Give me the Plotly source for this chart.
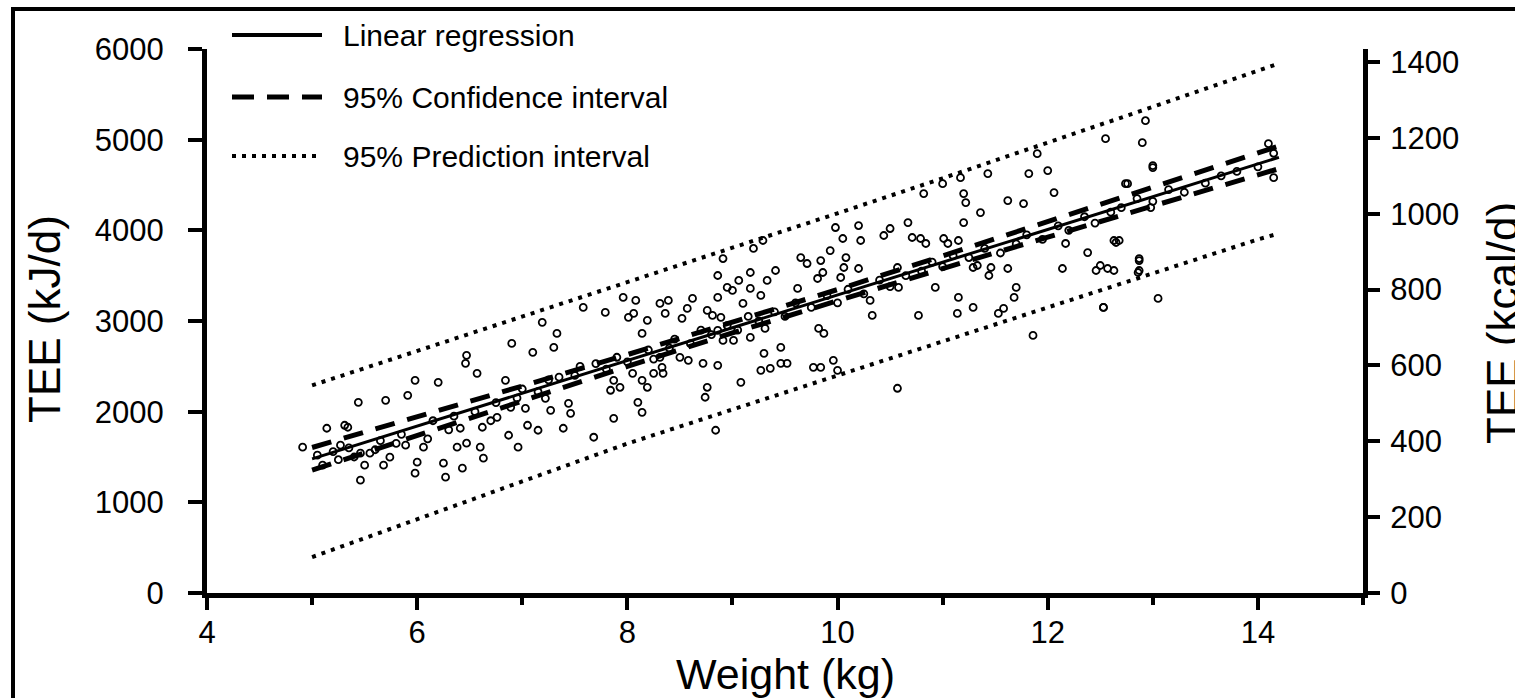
import plotly.graph_objects as go

# ---------------- data ----------------
weight_kg = [
    4.91, 5.14, 5.31, 5.44, 5.70, 5.91, 5.98, 6.20, 6.46, 6.57, 6.47, 6.84, 6.90, 7.19, 7.33, 7.30, 7.10,
    5.46, 5.55, 5.50, 5.46, 5.68, 5.74, 5.89, 6.00, 5.98, 6.06, 6.25, 6.27, 6.43, 6.38, 6.47, 6.60, 6.63,
    6.62, 6.41, 6.87, 6.96, 7.05, 7.15, 7.27, 7.39, 7.46, 7.44, 7.22, 7.03, 6.89, 6.76, 5.34, 5.27,
    7.58, 7.79, 7.96, 8.08, 8.06, 8.01, 8.19, 8.14, 8.31, 8.39, 8.36, 8.57, 8.62, 8.52, 8.76, 8.81, 8.89,
    8.86, 8.86, 8.95, 9.00, 9.06, 9.17, 9.17, 9.10, 9.27, 9.33, 9.41, 9.20, 9.29, 8.91, 8.86, 9.65, 9.71,
    9.84, 9.86, 9.81, 9.93, 10.08, 10.06, 10.03, 10.20, 10.20, 10.22, 9.98, 10.05, 9.62, 10.31, 10.33,
    7.87, 7.84, 7.93, 8.05, 8.14, 8.19, 8.25, 8.33, 8.34, 8.31, 8.50, 8.58, 8.72, 8.86, 8.76, 8.74, 9.08,
    8.10, 8.14, 7.87, 7.68, 8.84, 8.91, 9.01, 9.17, 9.31, 9.30, 9.27, 9.36, 9.46, 9.52, 9.46, 9.77, 9.84,
    9.96, 10.00, 9.82, 9.87,
    10.82, 11.00, 11.17, 11.20, 11.22, 11.36, 11.20, 11.43, 11.62, 11.77, 11.82, 12.00, 12.06, 11.90,
    12.74, 13.00, 10.67, 10.50, 10.44, 10.71, 10.79, 10.84, 11.01, 11.05, 11.15,
    10.58, 10.57, 10.93, 11.29, 11.33, 11.46, 11.44, 11.62, 11.70, 11.68, 11.15, 11.14, 11.29, 10.77,
    11.58, 11.53, 11.86, 12.14, 12.17, 12.38, 12.46, 12.50, 12.57, 12.63, 12.63, 12.68, 12.87, 12.87,
    12.53, 13.05, 10.57,
    12.93, 12.55, 12.90, 13.00, 12.76, 14.10, 14.15, 12.98, 12.65, 12.87, 12.86, 12.53,
    5.05, 5.10, 5.20, 5.25, 5.35, 5.40, 5.60, 5.65, 5.80, 5.85, 6.10, 6.15, 6.30, 6.35, 6.55, 6.70, 6.75,
    6.95, 7.00, 7.15, 7.25, 7.35, 7.50, 7.55, 7.70, 7.80, 7.90, 8.00, 8.20, 8.25, 8.40, 8.45, 8.60, 8.70,
    8.80, 8.95, 9.05, 9.15, 9.25, 9.40, 9.50, 9.60, 9.75, 9.90, 10.00, 10.10, 10.25, 10.40, 10.50, 10.65,
    10.80, 10.90, 11.00, 11.10, 11.25, 11.40, 11.55, 11.70, 11.80, 11.95, 12.10, 12.20, 12.35, 12.45,
    12.60, 12.70, 12.85, 13.00, 13.15, 13.30, 13.50, 13.65, 13.80, 14.00, 14.15,
]
tee_kj = [
    1608, 1817, 1850, 2103, 2125, 2180, 2346, 2324, 2533, 2423, 2621, 2346, 2753, 2985, 2863, 2709, 2654,
    1542, 1542, 1410, 1244, 1410, 1498, 1630, 1443, 1322, 1608, 1432, 1278, 1377, 1608, 1652, 1608, 1487,
    1828, 1817, 1740, 1608, 1850, 1795, 2015, 1817, 1982, 2092, 2147, 2037, 2048, 1938, 1828, 1630,
    3150, 3095, 3260, 3227, 3084, 3040, 3007, 2863, 3194, 3227, 3084, 3139, 3249, 3029, 3117, 3062, 3040,
    2897, 3260, 3370, 3337, 3447, 3535, 3359, 3194, 3282, 3447, 3557, 3800, 3888, 3689, 3502, 3700, 3634,
    3667, 3535, 3469, 3777, 3700, 3590, 3480, 3579, 4053, 3888, 4031, 3910, 3359, 3227, 3062,
    2346, 2236, 2269, 2423, 2346, 2269, 2423, 2489, 2423, 2599, 2599, 2566, 2533, 2511, 2269, 2159, 2324,
    2103, 1993, 1927, 1718, 1795, 2786, 2786, 2819, 2918, 2643, 2456, 2478, 2533, 2533, 2709, 2489, 2489,
    2566, 2456, 2918, 2863,
    4405, 4515, 4581, 4405, 4306, 4196, 4086, 4626, 4328, 4295, 4626, 4659, 4416, 4846,
    4515, 4714, 4086, 4020, 3943, 3921, 3910, 3855, 3910, 3855, 3888,
    3370, 3590, 3370, 3590, 3612, 3590, 3502, 3579, 3370, 3260, 3260, 3084, 3150, 3062,
    3139, 3084, 2841, 3579, 3855, 3755, 3557, 3612, 3579, 3557, 3888, 3888, 3689, 3557,
    3150, 3249, 2258,
    5209, 5011, 4967, 4692, 4515, 4956, 4581, 4251, 3866, 3667, 3535, 3150,
    1520, 1410, 1560, 1470, 1600, 1500, 1580, 1680, 1650, 1750, 1700, 1900, 1800, 1950, 2000, 1900, 2100,
    2150, 2250, 2220, 2350, 2380, 2400, 2500, 2530, 2470, 2600, 2550, 2680, 2580, 2700, 2800, 2750, 2900,
    2850, 2950, 2900, 3050, 3000, 3100, 3050, 3200, 3150, 3280, 3200, 3350, 3300, 3450, 3380, 3500,
    3550, 3650, 3600, 3720, 3700, 3800, 3750, 3850, 3950, 3900, 4050, 4000, 4150, 4080,
    4200, 4250, 4350, 4320, 4450, 4420, 4520, 4600, 4650, 4700, 4850,
]

line_weight = [5.0, 6.0, 7.0, 8.0, 9.0, 10.0, 11.0, 12.0, 13.0, 14.0, 14.2]
fit_tee = [1480, 1841, 2203, 2564, 2926, 3287, 3648, 4010, 4371, 4733, 4805]
ci_upper = [1605, 1941, 2283, 2629, 2984, 3347, 3718, 4095, 4471, 4851, 4930]
ci_lower = [1355, 1741, 2123, 2499, 2868, 3227, 3578, 3925, 4271, 4615, 4680]
pi_upper = [2290, 2668, 3045, 3425, 3806, 4188, 4574, 4965, 5362, 5760, 5840]
pi_lower = [396, 815, 1234, 1648, 2024, 2400, 2777, 3155, 3533, 3900, 3965]

x_ticks = [4, 6, 8, 10, 12, 14]
x_minor = [5, 7, 9, 11, 13, 15]
y_ticks = [0, 1000, 2000, 3000, 4000, 5000, 6000]
y2_ticks = [0, 200, 400, 600, 800, 1000, 1200, 1400]
KJ_PER_KCAL = 4.184

legend_labels = ["Linear regression", "95% Confidence interval", "95% Prediction interval"]

# ---------------- geometry ----------------
W, H = 1515, 698
L, R, T, B = 207, 1363, 49, 593  # plot area in pixels


def px(x):
    return (x - L) / (R - L)


def py(y):
    return (B - y) / (B - T)


FONT = "Liberation Sans, Arial, Helvetica, sans-serif"
BLACK = "black"

fig = go.Figure()

fig.add_trace(go.Scatter(
    x=weight_kg, y=tee_kj, mode="markers",
    marker=dict(symbol="circle-open", size=7, color=BLACK, line=dict(width=1.8, color=BLACK)),
    showlegend=False, hoverinfo="x+y"))

fig.add_trace(go.Scatter(x=line_weight, y=pi_upper, mode="lines",
                         line=dict(color=BLACK, width=4, dash="4px,6px"), showlegend=False))
fig.add_trace(go.Scatter(x=line_weight, y=pi_lower, mode="lines",
                         line=dict(color=BLACK, width=4, dash="4px,6px"), showlegend=False))
fig.add_trace(go.Scatter(x=line_weight, y=ci_upper, mode="lines",
                         line=dict(color=BLACK, width=5, dash="20px,13px"), showlegend=False))
fig.add_trace(go.Scatter(x=line_weight, y=ci_lower, mode="lines",
                         line=dict(color=BLACK, width=5, dash="20px,13px"), showlegend=False))
fig.add_trace(go.Scatter(x=line_weight, y=fit_tee, mode="lines",
                         line=dict(color=BLACK, width=3), showlegend=False))
# same regression in kcal/d on the secondary axis (invisible, anchors the right axis)
fig.add_trace(go.Scatter(x=line_weight, y=[v / KJ_PER_KCAL for v in fit_tee], yaxis="y2",
                         mode="lines", line=dict(width=0, color="rgba(0,0,0,0)"),
                         showlegend=False, hoverinfo="skip"))

axis_common = dict(showgrid=False, zeroline=False, showline=True, linecolor=BLACK, linewidth=5,
                   ticks="outside", tickcolor=BLACK, tickwidth=4,
                   tickfont=dict(family=FONT, size=31, color=BLACK))

fig.update_layout(
    width=W, height=H,
    margin=dict(l=L, r=W - R, t=T, b=H - B, pad=0),
    paper_bgcolor="white", plot_bgcolor="white",
    showlegend=False,
    xaxis=dict(range=[4, 15], tickvals=x_ticks, ticklen=12, ticklabelstandoff=-4,
               minor=dict(tickvals=x_minor, ticklen=7, tickwidth=4, tickcolor=BLACK, ticks="outside"),
               **axis_common),
    yaxis=dict(range=[0, 6000], tickvals=y_ticks, ticklen=14, ticklabelstandoff=18, **axis_common),
    yaxis2=dict(range=[0, 6000 / KJ_PER_KCAL], tickvals=y2_ticks, ticklen=12, ticklabelstandoff=4,
                overlaying="y", side="right", anchor="x", **axis_common),
)

shapes = []
# outer frame (left & top edges visible in the reference)
shapes.append(dict(type="line", xref="paper", yref="paper", x0=px(13), x1=px(13), y0=py(8), y1=py(H + 5),
                   line=dict(color=BLACK, width=4)))
shapes.append(dict(type="line", xref="paper", yref="paper", x0=px(11), x1=px(W + 5), y0=py(9), y1=py(9),
                   line=dict(color=BLACK, width=4)))
# legend samples
legend_rows = [35, 97, 156]
legend_styles = [dict(width=4, dash="solid"), dict(width=5, dash="22px,13px"), dict(width=4, dash="4px,6px")]
for yrow, st in zip(legend_rows, legend_styles):
    shapes.append(dict(type="line", xref="paper", yref="paper", x0=px(232), x1=px(322), y0=py(yrow), y1=py(yrow),
                       line=dict(color=BLACK, width=st["width"], dash=st["dash"])))
fig.update_layout(shapes=shapes)

annotations = []
for yrow, lab in zip(legend_rows, legend_labels):
    annotations.append(dict(text=lab, xref="paper", yref="paper", x=px(341), y=py(yrow), xanchor="left",
                            yanchor="middle", showarrow=False, font=dict(family=FONT, size=30, color=BLACK)))
annotations.append(dict(text="Weight (kg)", xref="paper", yref="paper", x=px(785), y=py(674),
                        xanchor="center", yanchor="middle", showarrow=False,
                        font=dict(family=FONT, size=43, color=BLACK)))
annotations.append(dict(text="TEE (kJ/d)", xref="paper", yref="paper", x=px(44), y=py(319),
                        xanchor="center", yanchor="middle", textangle=-90, showarrow=False,
                        font=dict(family=FONT, size=44, color=BLACK)))
annotations.append(dict(text="TEE (kcal/d)", xref="paper", yref="paper", x=px(1502), y=py(323),
                        xanchor="center", yanchor="middle", textangle=-90, showarrow=False,
                        font=dict(family=FONT, size=44, color=BLACK)))
fig.update_layout(annotations=annotations)

fig.write_html("out.html", config={"displayModeBar": False},
               post_script="document.body.style.margin='0';document.body.style.overflow='hidden';")
